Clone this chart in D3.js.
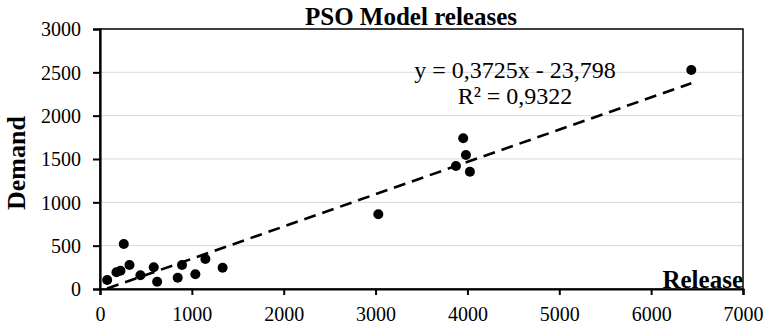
<!DOCTYPE html>
<html>
<head>
<meta charset="utf-8">
<script src="https://cdn.jsdelivr.net/npm/d3@7"></script>
<style>
  body { margin: 0; background: #fff; }
  svg { display: block; font-family: "Liberation Serif", "Times New Roman", serif; }
</style>
</head>
<body>
<svg id="chart" width="765" height="324"></svg>
<script>
// data
const release = [78, 179, 223, 259, 321, 440, 585, 622, 846, 893, 1038, 1147, 1335, 3030, 3875, 3954, 3984, 4027, 6437]
const demand = [104, 193, 211, 519, 277, 158, 250, 84, 130, 277, 170, 346, 246, 862, 1419, 1739, 1546, 1353, 2527]
const xTicks = [0, 1000, 2000, 3000, 4000, 5000, 6000, 7000]
const yTicks = [0, 500, 1000, 1500, 2000, 2500, 3000]
const slope = 0.3725
const intercept = -23.798
const eqLines = ["y = 0,3725x - 23,798", "R² = 0,9322"]
const title = "PSO Model releases"

let svg = d3.select("#chart")

let margin = {top: 29, right: 22, bottom: 35, left: 100}
let width = 765 - margin.left - margin.right
let height = 324 - margin.top - margin.bottom

const x = d3.scaleLinear().domain([0, 7000]).range([0, width])
const y = d3.scaleLinear().domain([0, 3000]).range([height, 0])

let g = svg.append("g").attr("transform", "translate(" + margin.left + "," + margin.top + ")")

// gridlines
g.selectAll(".grid").data(yTicks.filter(d => d > 0 && d < 3000)).enter()
    .append("line")
    .attr("class", "grid")
    .attr("x1", 0).attr("x2", width)
    .attr("y1", d => y(d)).attr("y2", d => y(d))
    .attr("stroke", "#d9d9d9")
    .attr("stroke-width", 1)

// plot border
g.append("rect")
    .attr("x", 0).attr("y", 0)
    .attr("width", width).attr("height", height)
    .attr("fill", "none")
    .attr("stroke", "#000")
    .attr("stroke-width", 1.5)

// axes
let xAxis = g.append("g")
    .attr("transform", "translate(0," + height + ")")
    .call(d3.axisBottom(x).tickValues(xTicks).tickFormat(d3.format("d")).tickSize(6).tickPadding(6))
let yAxis = g.append("g")
    .call(d3.axisLeft(y).tickValues(yTicks).tickFormat(d3.format("d")).tickSize(7).tickPadding(12))

for (let ax of [xAxis, yAxis]) {
    ax.select(".domain").attr("stroke", "#000").attr("stroke-width", 2.2)
    ax.selectAll(".tick line").attr("stroke", "#000").attr("stroke-width", 2)
    ax.selectAll(".tick text")
        .attr("fill", "#000")
        .style("font-family", "Liberation Serif")
        .style("font-size", "20px")
}
xAxis.selectAll(".tick text").attr("dy", "1.0em")
yAxis.selectAll(".tick text").attr("dy", "0.34em")

// trend line
let xmin = d3.min(release), xmax = d3.max(release)
g.append("line")
    .attr("x1", x(xmin)).attr("y1", y(slope * xmin + intercept))
    .attr("x2", x(xmax)).attr("y2", y(slope * xmax + intercept))
    .attr("stroke", "#000")
    .attr("stroke-width", 2.6)
    .attr("stroke-dasharray", "12,7")

// points
g.selectAll(".dot").data(release.map((r, i) => [r, demand[i]])).enter()
    .append("circle")
    .attr("class", "dot")
    .attr("cx", d => x(d[0]))
    .attr("cy", d => y(d[1]))
    .attr("r", 5)
    .attr("fill", "#000")

// equation
g.selectAll(".eq").data(eqLines).enter()
    .append("text")
    .attr("class", "eq")
    .attr("x", 415)
    .attr("y", (d, i) => 49 + i * 26)
    .style("text-anchor", "middle")
    .style("font-size", "24px")
    .text(d => d)

// titles
svg.append("text")
    .attr("x", 411).attr("y", 25)
    .style("text-anchor", "middle")
    .style("font-size", "25px")
    .style("font-weight", "bold")
    .text(title)

svg.append("text")
    .attr("x", margin.left + width).attr("y", margin.top + height - 1)
    .style("text-anchor", "end")
    .style("font-size", "25px")
    .style("font-weight", "bold")
    .text("Release")

svg.append("text")
    .attr("transform", "translate(25," + 163 + ") rotate(-90)")
    .style("text-anchor", "middle")
    .style("font-size", "26px")
    .style("font-weight", "bold")
    .text("Demand")
</script>
</body>
</html>
